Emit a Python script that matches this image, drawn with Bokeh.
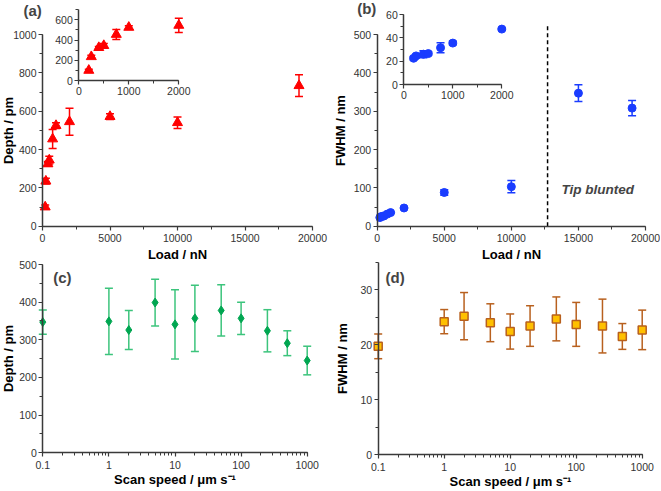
import math
from bokeh.plotting import figure
from bokeh.models import (ColumnDataSource, Whisker, TeeHead, Label, Range1d, LinearAxis, LogAxis,
                          LogScale, SingleIntervalTicker, LogTicker, CustomJSTickFormatter)
from bokeh.embed import file_html
from bokeh.resources import INLINE

# ---------------- data ----------------
load_a = [200, 250, 400, 500, 750, 1000, 2000, 5000, 10000, 19000]
depth_a = [100, 235, 325, 345, 455, 525, 545, 572, 540, 733]
depth_a_err = [10, 15, 12, 20, 50, 15, 70, 15, 30, 57]

load_b = [200, 250, 400, 500, 750, 1000, 2000, 5000, 10000, 15000, 19000]
fwhm_b = [22.5, 24.5, 26, 26.5, 31.5, 35.5, 47.5, 88, 103, 347, 308]
fwhm_b_err = [1.5, 1.5, 3, 1.5, 4.3, 1.5, 1, 7, 16, 22, 20]
tip_blunted_load = 12700
tip_line_top = 523
tip_label_y = 96

speed = [0.1, 1, 2, 5, 10, 20, 50, 100, 250, 500, 1000]
depth_c = [347, 349, 326, 399, 341, 357, 378, 357, 324, 291, 245]
depth_c_err = [32, 88, 52, 62, 92, 88, 68, 43, 56, 33, 38]
fwhm_d = [19.7, 24.2, 25.2, 24.0, 22.4, 23.4, 24.7, 23.7, 23.4, 21.5, 22.7]
fwhm_d_err = [2.25, 2.2, 4.3, 3.45, 3.2, 3.7, 4.0, 4.0, 4.9, 2.35, 3.6]

INSET_MAX_LOAD = 2000

# ---------------- canvas layout (pixels from the top-left corner) ----------------
W, H = 660, 490

FONT = "Liberation Sans"
AX = "#3a3a3a"
RED = "#ff0000"
BLUE = "#1a3cff"
GREEN = "#00a651"
GREEN_ERR = "#3cc47c"
GOLD = "#ffc000"
BROWN = "#b8601e"


def lin_x(v0, p0, v1, p1, size=W):
    k = (v1 - v0) / (p1 - p0)
    return Range1d(v0 - p0 * k, v0 + (size - p0) * k)


def lin_y(v0, p0, v1, p1, size=H):
    return lin_x(v0, size - p0, v1, size - p1, size)


def log_x(v0, p0, v1, p1, size=W):
    r = lin_x(math.log10(v0), p0, math.log10(v1), p1, size)
    return Range1d(10 ** r.start, 10 ** r.end)


def src(x, y, e, limit=None):
    rows = [(a, b, c) for a, b, c in zip(x, y, e) if limit is None or a <= limit]
    xs = [r[0] for r in rows]
    ys = [r[1] for r in rows]
    es = [r[2] for r in rows]
    return ColumnDataSource(dict(x=xs, y=ys, upper=[a + b for a, b in zip(ys, es)],
                                 lower=[a - b for a, b in zip(ys, es)]))


p = figure(width=W, height=H, x_range=Range1d(0, W), y_range=Range1d(0, H),
           x_axis_location=None, y_axis_location=None,
           output_backend="svg", toolbar_location=None,
           min_border_left=0, min_border_right=0, min_border_top=0, min_border_bottom=0)
p.min_border = 0
p.title.visible = False
p.grid.visible = False
p.outline_line_color = None

p.extra_x_ranges = {
    "ax": lin_x(0, 42, 20000, 312),
    "aix": lin_x(0, 78.3, 2000, 178.3),
    "bx": lin_x(0, 376.7, 20000, 645),
    "bix": lin_x(0, 403.3, 2000, 501.3),
    "cx": log_x(0.1, 42.3, 1000, 306.7),
    "dx": log_x(0.1, 377.7, 1000, 641.7),
}
p.extra_y_ranges = {
    "ay": lin_y(0, 225.7, 1000, 34),
    "aiy": lin_y(0, 80, 600, 19.3),
    "by": lin_y(0, 225.7, 500, 34),
    "biy": lin_y(0, 84, 60, 14),
    "cy": lin_y(0, 452.3, 500, 264),
    "dy": lin_y(0, 454, 30, 289.3),
}
p.extra_x_scales = {"cx": LogScale(), "dx": LogScale()}


def axis(side, xr, yr, loc, bounds, ticker, label=None, lab_standoff=0, tick_standoff=2,
         log=False, formatter=None):
    cls = LogAxis if log else LinearAxis
    ax = cls(x_range_name=xr, y_range_name=yr, fixed_location=loc, bounds=bounds, ticker=ticker)
    if formatter is not None:
        ax.formatter = formatter
    ax.axis_line_color = AX
    ax.axis_line_width = 1.5
    ax.major_tick_line_color = AX
    ax.major_tick_line_width = 1.2
    ax.major_tick_out = 4
    ax.major_tick_in = 0
    ax.minor_tick_line_color = AX
    ax.minor_tick_line_width = 1
    ax.minor_tick_out = 3
    ax.minor_tick_in = 0
    ax.major_label_text_font = FONT
    ax.major_label_text_font_size = "10.5px"
    ax.major_label_text_color = "#333333"
    ax.major_label_standoff = tick_standoff
    ax.axis_label_text_font = FONT
    ax.axis_label_text_font_style = "bold"
    ax.axis_label_text_font_size = "13px"
    ax.axis_label_text_color = "black"
    ax.axis_label_standoff = lab_standoff
    if label:
        ax.axis_label = label
    p.add_layout(ax, side)


def add_err(s, color, xr, yr, head=8, width=1.5):
    p.add_layout(Whisker(base="x", upper="upper", lower="lower", source=s,
                         line_color=color, line_width=width,
                         upper_head=TeeHead(size=head, line_color=color, line_width=width),
                         lower_head=TeeHead(size=head, line_color=color, line_width=width),
                         x_range_name=xr, y_range_name=yr))


def panel_label(text, x, y_from_top):
    p.add_layout(Label(x=x, y=H - y_from_top, x_units="screen", y_units="screen", text=text,
                       text_font=FONT, text_font_style="bold", text_font_size="15px",
                       text_baseline="middle", text_align="left"))


log_fmt = CustomJSTickFormatter(code="return tick < 1 ? tick.toFixed(1) : tick.toFixed(0);")


def lin_tick(interval):
    return SingleIntervalTicker(interval=interval, num_minor_ticks=2)


def log_tick():
    return LogTicker(mantissas=[1], num_minor_ticks=10, desired_num_ticks=5)


# ---------------- (a) ----------------
axis("below", "ax", "ay", 0, (0, 20000), lin_tick(5000), "Load / nN", lab_standoff=1, tick_standoff=4)
axis("left", "ax", "ay", 0, (0, 1000), lin_tick(200), "Depth / pm", lab_standoff=-6)
axis("below", "aix", "aiy", 0, (0, 2000), lin_tick(1000))
axis("left", "aix", "aiy", 0, (0, 700), lin_tick(200))
sa = src(load_a, depth_a, depth_a_err)
add_err(sa, RED, "ax", "ay")
p.scatter("x", "y", source=sa, marker="triangle", size=10, color=RED,
          x_range_name="ax", y_range_name="ay")
sia = src(load_a, depth_a, depth_a_err, INSET_MAX_LOAD)
add_err(sia, RED, "aix", "aiy")
p.scatter("x", "y", source=sia, marker="triangle", size=10, color=RED,
          x_range_name="aix", y_range_name="aiy")
panel_label("(a)", 23, 10)

# ---------------- (b) ----------------
axis("below", "bx", "by", 0, (0, 20000), lin_tick(5000), "Load / nN", lab_standoff=1, tick_standoff=4)
axis("left", "bx", "by", 0, (0, 500), lin_tick(100), "FWHM / nm", lab_standoff=3)
axis("below", "bix", "biy", 0, (0, 2000), lin_tick(1000))
axis("left", "bix", "biy", 0, (0, 60), lin_tick(20))
sb = src(load_b, fwhm_b, fwhm_b_err)
add_err(sb, BLUE, "bx", "by")
p.scatter("x", "y", source=sb, marker="circle", size=8, color=BLUE,
          x_range_name="bx", y_range_name="by")
sib = src(load_b, fwhm_b, fwhm_b_err, INSET_MAX_LOAD)
add_err(sib, BLUE, "bix", "biy")
p.scatter("x", "y", source=sib, marker="circle", size=8, color=BLUE,
          x_range_name="bix", y_range_name="biy")
p.segment(x0=[tip_blunted_load], y0=[0], x1=[tip_blunted_load], y1=[tip_line_top],
          line_color="black", line_width=1.5, line_dash="4 3",
          x_range_name="bx", y_range_name="by")
p.add_layout(Label(x=tip_blunted_load, y=tip_label_y, x_offset=14, text="Tip blunted",
                   text_font=FONT, text_font_style="bold italic", text_font_size="13.5px",
                   text_baseline="middle", x_range_name="bx", y_range_name="by"))
panel_label("(b)", 356.7, 8)

# ---------------- (c) ----------------
axis("below", "cx", "cy", 0, (0.1, 1000), log_tick(), "Scan speed / μm s⁻¹",
     lab_standoff=0, tick_standoff=4, log=True, formatter=log_fmt)
axis("left", "cx", "cy", 0.1, (0, 500), lin_tick(100), "Depth / pm", lab_standoff=0)
sc = src(speed, depth_c, depth_c_err)
add_err(sc, GREEN_ERR, "cx", "cy")
p.scatter("x", "y", source=sc, marker="diamond", size=9, color=GREEN,
          x_range_name="cx", y_range_name="cy")
panel_label("(c)", 52.7, 276.5)

# ---------------- (d) ----------------
axis("below", "dx", "dy", 0, (0.1, 1000), log_tick(), "Scan speed / μm s⁻¹",
     lab_standoff=0, tick_standoff=4, log=True, formatter=log_fmt)
axis("left", "dx", "dy", 0.1, (0, 35), lin_tick(10), "FWHM / nm", lab_standoff=8)
sd = src(speed, fwhm_d, fwhm_d_err)
add_err(sd, BROWN, "dx", "dy")
p.scatter("x", "y", source=sd, marker="square", size=8, fill_color=GOLD,
          line_color=BROWN, line_width=1.5, x_range_name="dx", y_range_name="dy")
panel_label("(d)", 385, 276.5)

open("out.html", "w").write(file_html(p, INLINE))
